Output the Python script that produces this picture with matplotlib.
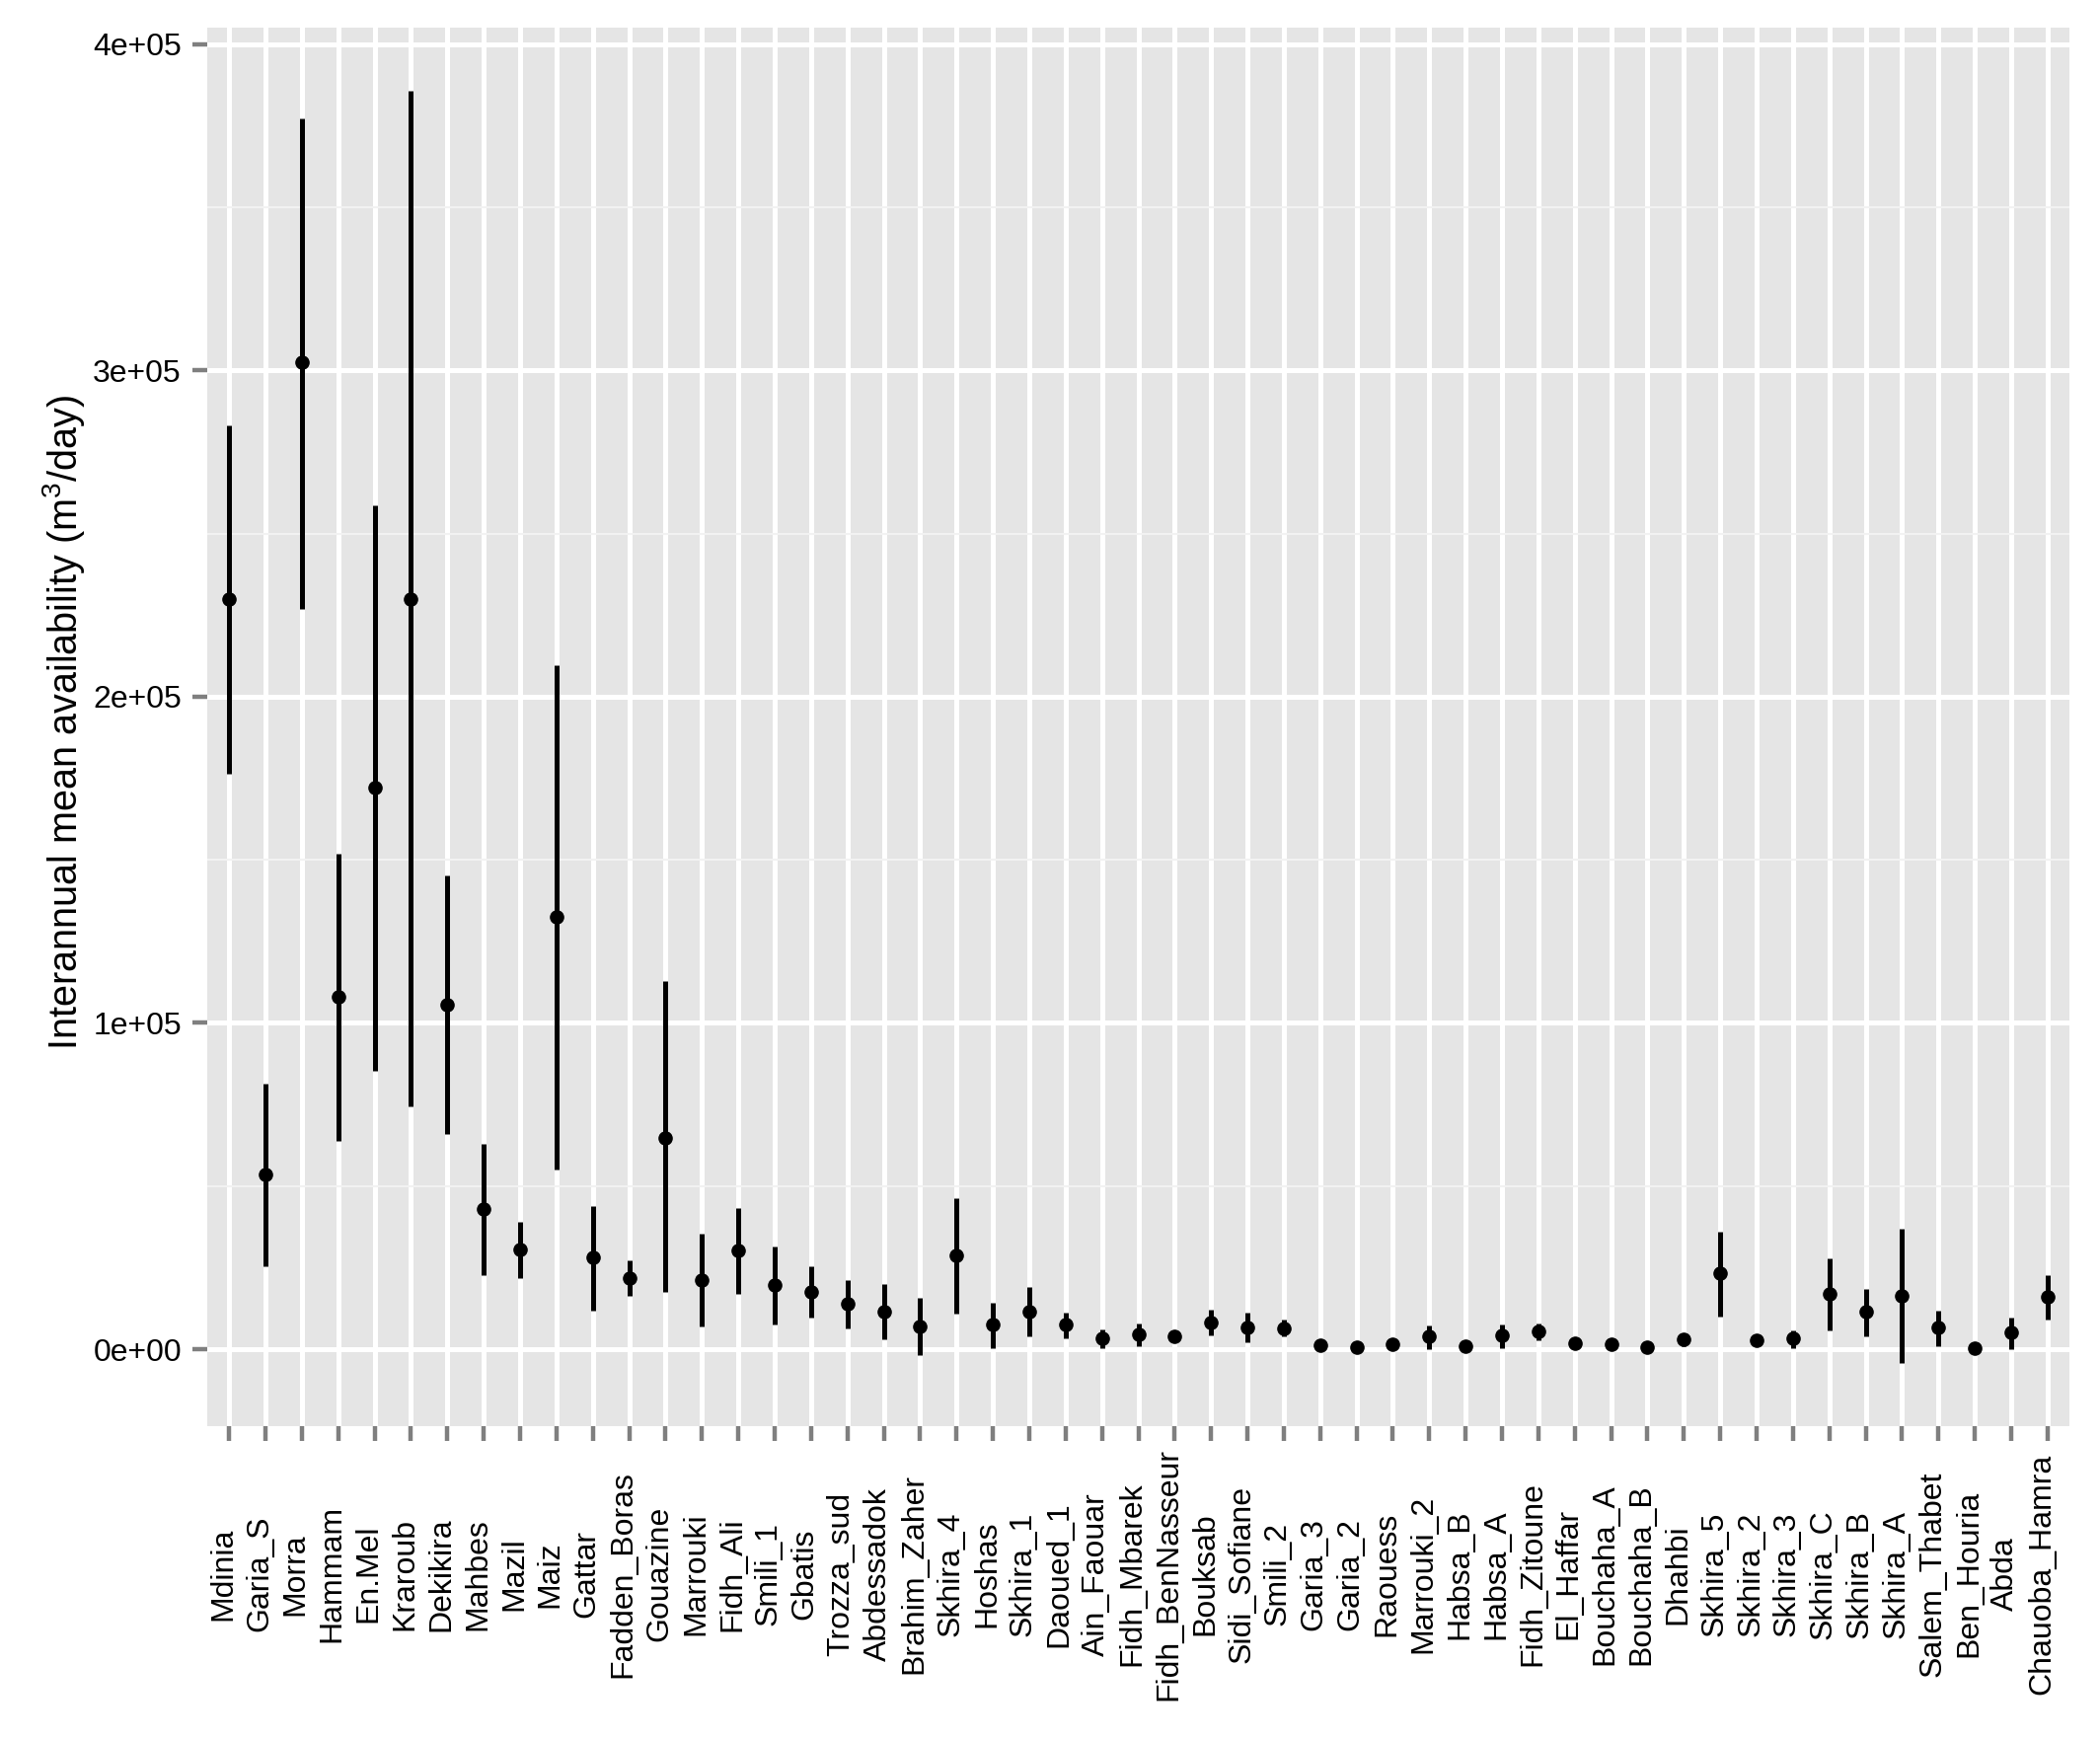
import numpy as np
import matplotlib
matplotlib.use("Agg")
import matplotlib.pyplot as plt
import matplotlib.transforms as mtransforms
from matplotlib.ticker import MultipleLocator, FixedLocator

plt.rcParams['font.family'] = ['Liberation Sans', 'DejaVu Sans']
plt.rcParams['mathtext.fontset'] = 'custom'
plt.rcParams['mathtext.rm'] = 'Liberation Sans'

# sites, in plotting order
sites = ['Mdinia', 'Garia_S', 'Morra', 'Hammam', 'En.Mel', 'Kraroub', 'Dekikira',
         'Mahbes', 'Mazil', 'Maiz', 'Gattar', 'Fadden_Boras', 'Gouazine', 'Marrouki',
         'Fidh_Ali', 'Smili_1', 'Gbatis', 'Trozza_sud', 'Abdessadok', 'Brahim_Zaher',
         'Skhira_4', 'Hoshas', 'Skhira_1', 'Daoued_1', 'Ain_Faouar', 'Fidh_Mbarek',
         'Fidh_BenNasseur', 'Bouksab', 'Sidi_Sofiane', 'Smili_2', 'Garia_3', 'Garia_2',
         'Raouess', 'Marrouki_2', 'Habsa_B', 'Habsa_A', 'Fidh_Zitoune', 'El_Haffar',
         'Bouchaha_A', 'Bouchaha_B', 'Dhahbi', 'Skhira_5', 'Skhira_2', 'Skhira_3',
         'Skhira_C', 'Skhira_B', 'Skhira_A', 'Salem_Thabet', 'Ben_Houria', 'Abda',
         'Chauoba_Hamra']

# interannual mean availability (m3/day)
mean = [230000, 53500, 302400, 108100, 172100, 230000, 105600,
        42900, 30600, 132500, 28100, 21800, 64800, 21200,
        30200, 19700, 17500, 14000, 11500, 7100,
        28800, 7700, 11500, 7700, 3400, 4400,
        4000, 8300, 6800, 6400, 1300, 700,
        1600, 3800, 1000, 4100, 5500, 1900,
        1600, 600, 3100, 23400, 2700, 3400,
        17000, 11600, 16400, 6800, 400, 5200,
        16100]

lower = [176500, 25500, 226900, 63900, 85300, 74500, 66000,
         22800, 21800, 55100, 11900, 16300, 17500, 7100,
         16900, 7600, 9800, 6500, 3000, -1700,
         10900, 300, 4000, 3300, 300, 1000,
         2800, 4300, 2100, 3800, 300, 100,
         500, 100, 200, 300, 2800, 900,
         700, 100, 1000, 10100, 1700, 400,
         5800, 4000, -4100, 1000, 100, 100,
         9200]

upper = [283100, 81500, 377400, 151800, 258800, 385600, 145200,
         62800, 38900, 209800, 44000, 27100, 112800, 35400,
         43200, 31400, 25300, 21200, 19900, 15700,
         46300, 14200, 19100, 11200, 6000, 7900,
         5000, 12100, 11200, 9000, 2300, 1300,
         2600, 7300, 2000, 7500, 7800, 2900,
         2600, 1200, 5000, 35900, 3700, 5900,
         27700, 18600, 36800, 11700, 800, 9700,
         22600]

x = np.arange(len(sites))
lo = np.array(lower)
hi = np.array(upper)
span = hi.max() - lo.min()

fig = plt.figure(figsize=(21.28, 17.62), dpi=100)
ax = fig.add_axes([210 / 2128, 1 - 1445 / 1762, 1887 / 2128, 1417 / 1762])
ax.set_facecolor('#E5E5E5')
for s in ax.spines.values():
    s.set_visible(False)

# pointrange: vertical segment plus dot
ax.vlines(x, lo, hi, color='black', lw=3.6, zorder=3)
ax.plot(x, mean, 'o', color='black', ms=9.5, zorder=4)

# ggplot-like expansion
ax.set_xlim(-0.6, len(sites) - 0.4)
ax.set_ylim(lo.min() - 0.05 * span, hi.max() + 0.05 * span)

ax.yaxis.set_major_locator(MultipleLocator(100000))
ax.yaxis.set_minor_locator(MultipleLocator(50000))
ax.set_yticks([0, 100000, 200000, 300000, 400000])
ax.set_yticklabels(['0e+00', '1e+05', '2e+05', '3e+05', '4e+05'], fontsize=23)
ax.xaxis.set_major_locator(FixedLocator(x))
ax.set_xticklabels(sites, rotation=90, fontsize=23, va='center', ha='center')

ax.grid(True, which='major', color='white', lw=3.6)
ax.grid(True, which='minor', axis='y', color='#F2F2F2', lw=1.5)
ax.set_axisbelow(True)

ax.tick_params(which='major', color='#7F7F7F', length=10.8, width=3.2, labelcolor='black')
ax.tick_params(axis='y', which='major', pad=8)
ax.tick_params(axis='x', which='major', pad=97)
ax.tick_params(which='minor', length=0)

shift = mtransforms.ScaledTranslation(-6 / 100, 0, fig.dpi_scale_trans)
for lbl in ax.get_xticklabels():
    lbl.set_transform(lbl.get_transform() + shift)

fig.text(65 / 2128, 1 - 732 / 1762, 'Interannual mean availability (m$^3$/day)',
         rotation=90, ha='center', va='center', fontsize=28.5)

fig.savefig('out.png', dpi=100, facecolor='white')
